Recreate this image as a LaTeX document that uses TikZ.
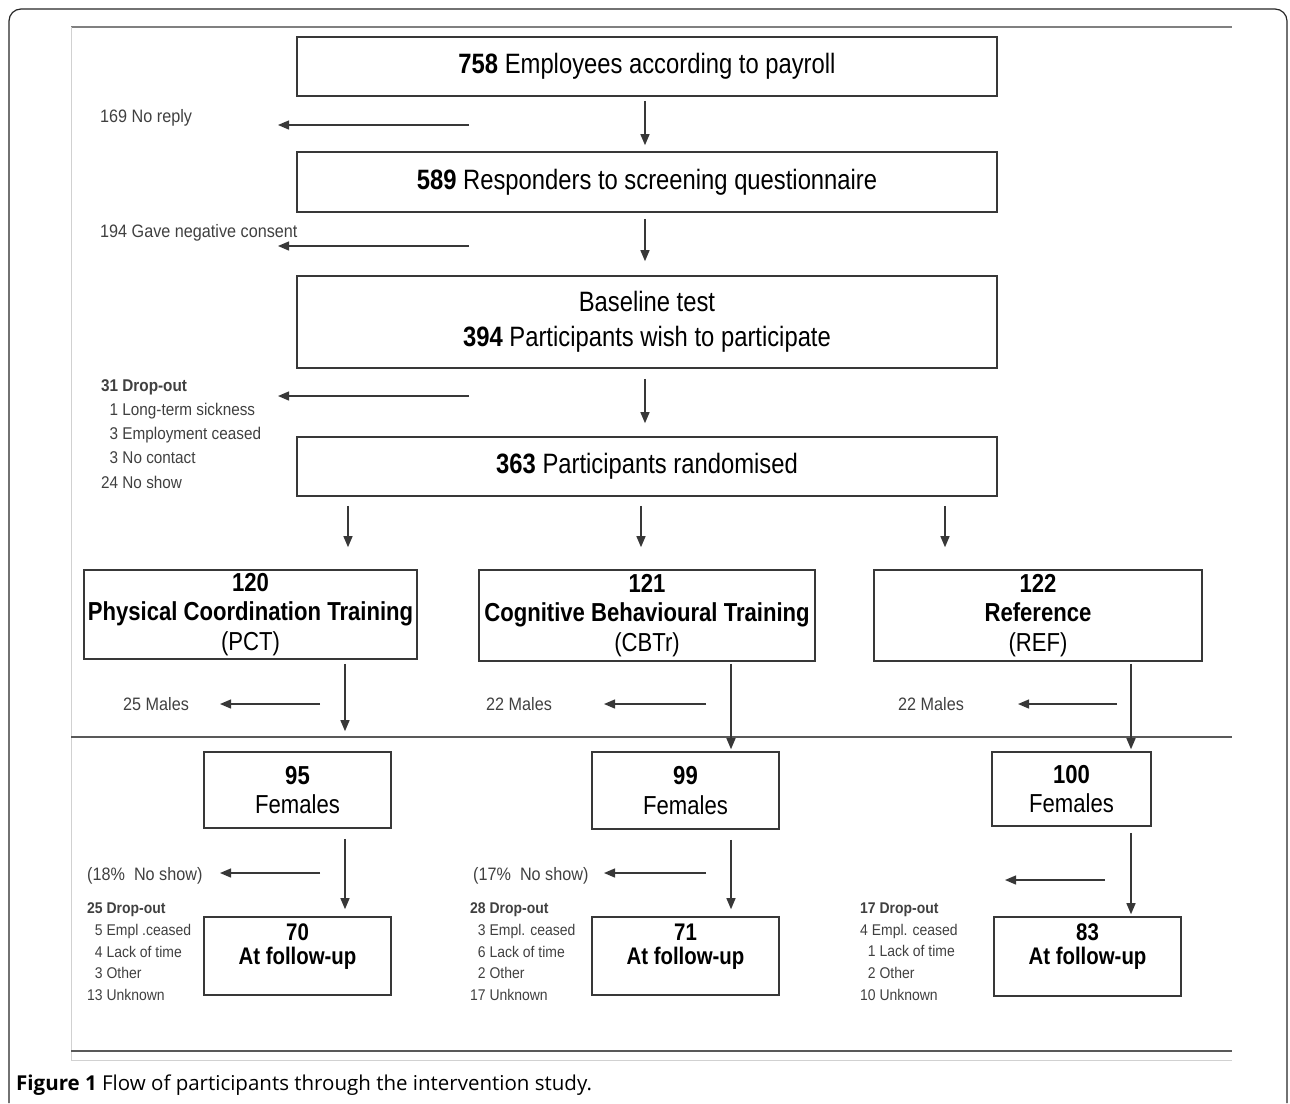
\documentclass[tikz,border=0pt]{standalone}
\usepackage{fontspec}
\setmainfont{Liberation Sans}
\newfontfamily\boxfont[FakeStretch=0.85]{Liberation Sans}
\newfontfamily\smallfont[FakeStretch=0.9]{Liberation Sans}
\newfontfamily\capfont{Open Sans}
\usetikzlibrary{arrows.meta}
\definecolor{linegray}{gray}{0.22}
\definecolor{textgray}{gray}{0.25}
\newcommand{\bigtext}{\boxfont\fontsize{28}{35}\selectfont}
\newcommand{\midtext}{\boxfont\fontsize{26}{29.5}\selectfont}
\newcommand{\futext}{\boxfont\fontsize{24}{24}\selectfont}

\begin{document}
\begin{tikzpicture}[x=1pt,y=-1pt,
    flowbox/.style={draw=linegray, line width=1.6pt, inner sep=0pt, align=center},
    flowarrow/.style={draw=linegray, line width=1.3pt, -{Triangle[length=11pt,width=9pt]}},
    sidetext/.style={anchor=base west, inner sep=0pt, text=textgray, font=\smallfont\fontsize{18}{22}\selectfont},
    listtext/.style={anchor=north west, inner sep=0pt, align=left, text=textgray}]
    \useasboundingbox (0,0) rectangle (1290,1103);
    \draw[rounded corners=12pt, line width=1.2pt, black!85] (9,1103) -- (9,9) -- (1287,9) -- (1287,1103);
    \draw[black!50, line width=1.2pt] (71,27) -- (1232,27);
    \draw[black!18, line width=1pt] (71,27) -- (71,1060);
    \draw[black!65, line width=1.5pt] (71,737) -- (1232,737);
    \draw[black!65, line width=2pt] (71,1051) -- (1232,1051);
    \draw[black!18, line width=1pt] (71,1060) -- (1232,1060);

    \node[flowbox, minimum width=700pt, minimum height=59pt, font=\bigtext] (payroll) at (647,66.5) {\textbf{758} Employees according to payroll};
    \node[flowbox, minimum width=700pt, minimum height=60pt, font=\bigtext] (screening) at (647,182) {\textbf{589} Responders to screening questionnaire};
    \node[flowbox, minimum width=700pt, minimum height=92pt, font=\bigtext] (baseline) at (647,322) {Baseline test\\\textbf{394} Participants wish to participate};
    \node[flowbox, minimum width=700pt, minimum height=59pt, font=\bigtext] (randomised) at (647,466.5) {\textbf{363} Participants randomised};

    \node[flowbox, minimum width=333pt, minimum height=89pt, font=\midtext] (pct) at (250.5,614.5) {\textbf{120}\\\textbf{Physical Coordination Training}\\(PCT)};
    \node[flowbox, minimum width=336pt, minimum height=91pt, font=\midtext] (cbtr) at (647,615.5) {\textbf{121}\\\textbf{Cognitive Behavioural Training}\\(CBTr)};
    \node[flowbox, minimum width=328pt, minimum height=91pt, font=\midtext] (ref) at (1038,615.5) {\textbf{122}\\\textbf{Reference}\\(REF)};

    \node[flowbox, minimum width=187pt, minimum height=76pt, font=\midtext] (femPCT) at (297.5,790) {\textbf{95}\\Females};
    \node[flowbox, minimum width=187pt, minimum height=77pt, font=\midtext] (femCBTr) at (685.5,790.5) {\textbf{99}\\Females};
    \node[flowbox, minimum width=159pt, minimum height=74pt, font=\midtext] (femREF) at (1071.5,789) {\textbf{100}\\Females};

    \node[flowbox, minimum width=187pt, minimum height=78pt, font=\futext] (fuPCT) at (297.5,956) {\textbf{70}\\\textbf{At follow-up}\\\mbox{}};
    \node[flowbox, minimum width=187pt, minimum height=78pt, font=\futext] (fuCBTr) at (685.5,956) {\textbf{71}\\\textbf{At follow-up}\\\mbox{}};
    \node[flowbox, minimum width=187pt, minimum height=79pt, font=\futext] (fuREF) at (1087.5,956.5) {\textbf{83}\\\textbf{At follow-up}\\\mbox{}};

    \draw[flowarrow] ([xshift=-2pt,yshift=-4pt]payroll.south) -- ([xshift=-2pt,yshift=6pt]screening.north);
    \draw[flowarrow] ([xshift=-2pt,yshift=-6pt]screening.south) -- ([xshift=-2pt,yshift=14pt]baseline.north);
    \draw[flowarrow] ([xshift=-2pt,yshift=-10pt]baseline.south) -- ([xshift=-2pt,yshift=13pt]randomised.north);
    \draw[flowarrow] ([xshift=-299pt,yshift=-9pt]randomised.south) -- ([xshift=97.5pt,yshift=22pt]pct.north);
    \draw[flowarrow] ([xshift=-6pt,yshift=-9pt]randomised.south) -- ([xshift=-6pt,yshift=22pt]cbtr.north);
    \draw[flowarrow] ([xshift=298pt,yshift=-9pt]randomised.south) -- ([xshift=-93pt,yshift=22pt]ref.north);
    \draw[flowarrow] ([xshift=94.5pt,yshift=-4pt]pct.south) -- ([xshift=47.5pt,yshift=20pt]femPCT.north);
    \draw[flowarrow] ([xshift=84pt,yshift=-2pt]cbtr.south) -- ([xshift=45.5pt,yshift=2pt]femCBTr.north);
    \draw[flowarrow] ([xshift=93pt,yshift=-2pt]ref.south) -- ([xshift=59.5pt,yshift=2pt]femREF.north);
    \draw[flowarrow] ([xshift=47.5pt,yshift=-10pt]femPCT.south) -- ([xshift=47.5pt,yshift=7pt]fuPCT.north);
    \draw[flowarrow] ([xshift=45.5pt,yshift=-10pt]femCBTr.south) -- ([xshift=45.5pt,yshift=7pt]fuCBTr.north);
    \draw[flowarrow] ([xshift=59.5pt,yshift=-6pt]femREF.south) -- ([xshift=43.5pt,yshift=2pt]fuREF.north);

    \node[sidetext] (noreply) at (100,122.5) {169 No reply};
    \node[sidetext] (negconsent) at (100,237.5) {194 Gave negative consent};
    \node[sidetext] (malesPCT) at (123,710.5) {25 Males};
    \node[sidetext] (malesCBTr) at (486,710.5) {22 Males};
    \node[sidetext] (malesREF) at (898,710.5) {22 Males};
    \node[sidetext] (noshowPCT) at (87,880) {(18\%\ \ No show)};
    \node[sidetext] (noshowCBTr) at (473,880) {(17\%\ \ No show)};

    \node[listtext, font=\smallfont\fontsize{17}{24.25}\selectfont] (dropBase) at (101,379) {\textbf{31 Drop-out}\\\phantom{2}1 Long-term sickness\\\phantom{2}3 Employment ceased\\\phantom{2}3 No contact\\24 No show};
    \node[listtext, font=\smallfont\fontsize{15.5}{21.75}\selectfont] (dropPCT) at (87,902.5) {\textbf{25 Drop-out}\\\phantom{1}5 Empl .ceased\\\phantom{1}4 Lack of time\\\phantom{1}3 Other\\13 Unknown};
    \node[listtext, font=\smallfont\fontsize{15.5}{21.75}\selectfont] (dropCBTr) at (470,902.5) {\textbf{28 Drop-out}\\\phantom{1}3 Empl. ceased\\\phantom{1}6 Lack of time\\\phantom{1}2 Other\\17 Unknown};
    \node[listtext, font=\smallfont\fontsize{15.5}{21.75}\selectfont] (dropREF) at (860,902.5) {\textbf{17 Drop-out}\\4 Empl. ceased\\\phantom{1}1 Lack of time\\\phantom{1}2 Other\\10 Unknown};

    \coordinate (noreplyA) at (469,125);
    \coordinate (noreplyB) at (278,125);
    \coordinate (consentA) at (469,246);
    \coordinate (consentB) at (278,246);
    \coordinate (dropA) at (469,396);
    \coordinate (dropB) at (278,396);
    \coordinate (malesPCTA) at (320,704);
    \coordinate (malesPCTB) at (220,704);
    \coordinate (malesCBTrA) at (706,704);
    \coordinate (malesCBTrB) at (604,704);
    \coordinate (malesREFA) at (1117,704);
    \coordinate (malesREFB) at (1018,704);
    \coordinate (noshowPCTA) at (320,873);
    \coordinate (noshowPCTB) at (220,873);
    \coordinate (noshowCBTrA) at (706,873);
    \coordinate (noshowCBTrB) at (604,873);
    \coordinate (noshowREFA) at (1105,880);
    \coordinate (noshowREFB) at (1005,880);
    \draw[flowarrow] (noreplyA) -- (noreplyB);
    \draw[flowarrow] (consentA) -- (consentB);
    \draw[flowarrow] (dropA) -- (dropB);
    \draw[flowarrow] (malesPCTA) -- (malesPCTB);
    \draw[flowarrow] (malesCBTrA) -- (malesCBTrB);
    \draw[flowarrow] (malesREFA) -- (malesREFB);
    \draw[flowarrow] (noshowPCTA) -- (noshowPCTB);
    \draw[flowarrow] (noshowCBTrA) -- (noshowCBTrB);
    \draw[flowarrow] (noshowREFA) -- (noshowREFB);

    \node[anchor=base west, inner sep=0pt, font=\capfont\fontsize{20.5}{24}\selectfont] (caption) at (16,1090) {\textbf{Figure 1} Flow of participants through the intervention study.};
\end{tikzpicture}
\end{document}
